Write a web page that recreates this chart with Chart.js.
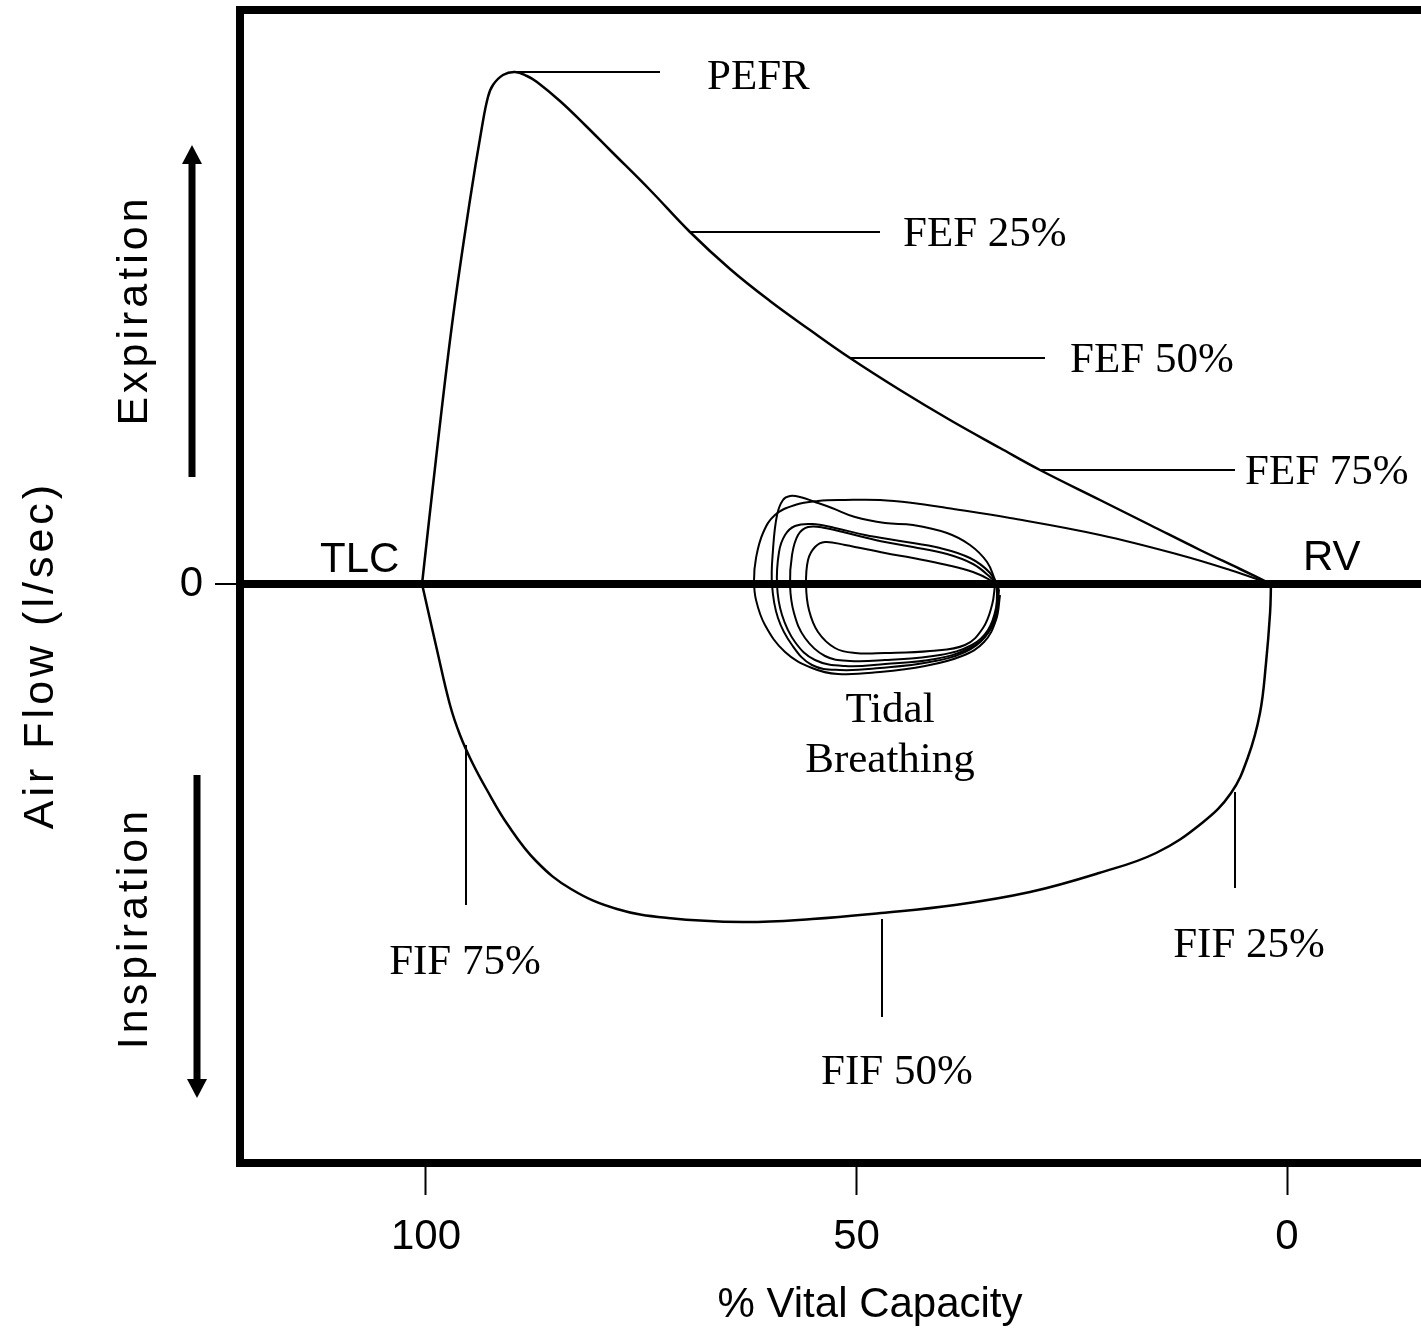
<!DOCTYPE html>
<html lang="en">
<head>
  <meta charset="UTF-8">
  <title>Flow-Volume Loop</title>
  <style>
    html, body { margin: 0; padding: 0; background: #fff; }
    #wrap { width: 1421px; height: 1330px; }
  </style>
</head>
<body>
  <div id="wrap"><canvas id="loopChart" width="1421" height="1330"></canvas></div>

  <script src="https://cdnjs.cloudflare.com/ajax/libs/Chart.js/4.4.1/chart.umd.min.js"></script>

  <script>
    // x = % vital capacity, y = air flow (l/sec)
    const xTicks = [0, 50, 100];
    const yTicks = [0];

    // forced expiration, TLC -> RV
    const expVolume = [100.46, 98.72, 96.86, 94.89, 93.50, 92.80, 92.22, 91.06, 89.66, 88.27, 87.11, 84.44, 81.53, 78.63, 73.98, 69.34, 64.69, 60.05, 55.40, 50.75, 44.95, 39.14, 33.33, 28.69, 21.72, 15.91, 10.10, 5.46, 1.86];
    const expFlow = [0, 2.68, 5.34, 7.68, 9.14, 9.74, 9.98, 10.18, 10.24, 10.16, 10.04, 9.66, 9.18, 8.68, 7.88, 7.04, 6.30, 5.66, 5.08, 4.52, 3.88, 3.28, 2.72, 2.28, 1.68, 1.18, 0.68, 0.30, 0];

    // forced inspiration, RV -> TLC
    const inspVolume = [1.86, 1.97, 2.44, 3.14, 4.53, 6.50, 9.87, 15.21, 21.83, 29.85, 38.56, 47.15, 55.17, 63.18, 71.89, 77.82, 83.16, 87.22, 90.48, 92.92, 94.66, 96.05, 97.21, 98.72, 100.46];
    const inspFlow = [0, -0.58, -1.58, -2.58, -3.46, -4.18, -4.78, -5.38, -5.78, -6.16, -6.42, -6.58, -6.70, -6.76, -6.68, -6.50, -6.10, -5.54, -4.82, -4.12, -3.56, -3.02, -2.42, -1.32, 0];

    // tidal breathing loops (inner to outer)
    const tidal1Volume = [33.91, 34.26, 35.31, 37.40, 41.46, 46.69, 50.17, 52.50, 54.47, 55.52, 55.86, 55.63, 54.82, 53.66, 51.33, 46.69, 43.44, 39.49, 36.47, 34.49, 33.91];
    const tidal1Flow = [-0.02, -0.42, -0.88, -1.22, -1.34, -1.38, -1.38, -1.28, -0.96, -0.52, -0.02, 0.48, 0.74, 0.84, 0.78, 0.62, 0.52, 0.38, 0.24, 0.08, -0.02];

    const tidal2Volume = [33.68, 33.80, 34.73, 36.59, 40.30, 46.69, 50.75, 53.66, 55.98, 57.26, 57.72, 57.49, 56.79, 55.63, 53.66, 50.17, 46.69, 43.44, 39.49, 36.47, 34.49, 33.68];
    const tidal2Flow = [-0.02, -0.48, -0.92, -1.22, -1.42, -1.52, -1.54, -1.44, -1.08, -0.58, -0.02, 0.58, 0.98, 1.14, 1.12, 0.98, 0.84, 0.74, 0.60, 0.40, 0.14, -0.02];

    const tidal3Volume = [33.57, 33.68, 34.73, 36.82, 40.88, 46.69, 51.33, 54.82, 57.14, 58.65, 59.23, 59.00, 58.30, 57.14, 55.17, 52.50, 49.01, 44.95, 40.30, 36.82, 34.49, 33.57];
    const tidal3Flow = [-0.08, -0.56, -0.98, -1.28, -1.50, -1.60, -1.64, -1.52, -1.16, -0.62, -0.02, 0.64, 0.98, 1.16, 1.20, 1.12, 0.98, 0.86, 0.72, 0.52, 0.22, -0.08];

    const tidal4Volume = [33.45, 33.80, 35.08, 37.40, 41.46, 47.27, 51.92, 55.17, 57.49, 59.12, 59.81, 59.70, 59.23, 58.54, 57.72, 56.56, 54.82, 52.85, 50.17, 46.69, 43.44, 39.49, 36.82, 34.84, 33.91, 33.45];
    const tidal4Flow = [-0.12, -0.62, -1.06, -1.36, -1.56, -1.68, -1.72, -1.62, -1.22, -0.68, -0.02, 0.68, 1.38, 1.68, 1.76, 1.74, 1.64, 1.52, 1.34, 1.22, 1.18, 1.02, 0.78, 0.44, 0.08, -0.12];

    // last tidal inspiration, then slow expiration down to RV
    const lastVolume = [33.33, 33.80, 35.19, 37.75, 42.04, 47.27, 52.15, 55.17, 58.30, 60.63, 61.67, 61.90, 61.67, 60.86, 59.47, 57.14, 54.47, 51.33, 47.27, 43.44, 39.49, 32.17, 21.72, 12.43, 6.62, 1.86];
    const lastFlow = [-0.22, -0.72, -1.16, -1.44, -1.64, -1.76, -1.80, -1.68, -1.36, -0.82, -0.32, 0.08, 0.52, 1.02, 1.38, 1.58, 1.66, 1.68, 1.68, 1.62, 1.52, 1.32, 0.98, 0.58, 0.28, 0];

    // callouts: label, leader start, leader end, text anchor (data units)
    const callouts = [
      { text: 'PEFR',    from: [89.66, 10.24], to: [72.82, 10.24], at: [67.36, 9.90],  align: 'left' },
      { text: 'FEF 25%', from: [69.34, 7.04],  to: [47.27, 7.04],  at: [44.60, 6.76],  align: 'left' },
      { text: 'FEF 50%', from: [50.75, 4.52],  to: [28.11, 4.52],  at: [25.20, 4.24],  align: 'left' },
      { text: 'FEF 75%', from: [28.69, 2.28],  to: [6.04, 2.28],   at: [4.88, 2.00],   align: 'left' },
      { text: 'FIF 75%', from: [95.35, -3.22], to: [95.35, -6.42], at: [95.47, -7.80], align: 'center' },
      { text: 'FIF 50%', from: [47.04, -6.70], to: [47.04, -8.66], at: [45.30, -10.00], align: 'center' },
      { text: 'FIF 25%', from: [6.04, -4.16],  to: [6.04, -6.08],  at: [4.41, -7.46],  align: 'center' }
    ];
    const tidalText = [['Tidal', 46.11, -2.76], ['Breathing', 46.11, -3.76]];
    const endText = [['TLC', 112.31, 0.24], ['RV', -1.86, 0.28]];

    const pts = (xs, ys) => xs.map((x, i) => ({ x: x, y: ys[i] }));

    // [volume, flow, line width]
    const traces = [
      [expVolume, expFlow, 2.5],
      [inspVolume, inspFlow, 2.5],
      [tidal1Volume, tidal1Flow, 2],
      [tidal2Volume, tidal2Flow, 2],
      [tidal3Volume, tidal3Flow, 2],
      [tidal4Volume, tidal4Flow, 2],
      [lastVolume, lastFlow, 2]
    ];

    const SERIF = '"Liberation Serif", "Times New Roman", serif';
    const SANS = '"Liberation Sans", Arial, sans-serif';

    // frame, callouts and side labels
    const decorations = {
      id: 'decorations',
      afterDraw(chart) {
        const { ctx, chartArea, scales: { x, y } } = chart;
        ctx.save();
        ctx.strokeStyle = '#000';
        ctx.fillStyle = '#000';

        // top edge of the frame
        ctx.lineWidth = 8;
        ctx.beginPath();
        ctx.moveTo(chartArea.left - 4, chartArea.top);
        ctx.lineTo(chartArea.right, chartArea.top);
        ctx.stroke();

        // leader lines
        ctx.lineWidth = 2;
        callouts.forEach(c => {
          ctx.beginPath();
          ctx.moveTo(x.getPixelForValue(c.from[0]), y.getPixelForValue(c.from[1]));
          ctx.lineTo(x.getPixelForValue(c.to[0]), y.getPixelForValue(c.to[1]));
          ctx.stroke();
        });

        ctx.font = '43px ' + SERIF;
        ctx.textBaseline = 'alphabetic';
        callouts.forEach(c => {
          ctx.textAlign = c.align;
          ctx.fillText(c.text, x.getPixelForValue(c.at[0]), y.getPixelForValue(c.at[1]));
        });
        ctx.textAlign = 'center';
        tidalText.forEach(t => ctx.fillText(t[0], x.getPixelForValue(t[1]), y.getPixelForValue(t[2])));

        ctx.font = '42px ' + SANS;
        ctx.textAlign = 'left';
        endText.forEach(t => ctx.fillText(t[0], x.getPixelForValue(t[1]), y.getPixelForValue(t[2])));

        // x axis title
        ctx.textAlign = 'center';
        ctx.fillText('% Vital Capacity', x.getPixelForValue(48.43), 1317);

        // rotated side labels
        const side = (text, px, val) => {
          ctx.save();
          ctx.translate(px, y.getPixelForValue(val));
          ctx.rotate(-Math.PI / 2);
          ctx.font = '43px ' + SANS;
          ctx.letterSpacing = '4px';
          ctx.textAlign = 'center';
          ctx.fillText(text, 0, 0);
          ctx.restore();
        };
        side('Expiration', 147, 5.48);
        side('Inspiration', 147, -6.88);
        side('Air Flow (l/sec)', 53, -1.42);

        // direction arrows
        const arrow = (px, fromVal, toVal) => {
          const y1 = y.getPixelForValue(fromVal);
          const y2 = y.getPixelForValue(toVal);
          const dir = Math.sign(y2 - y1);
          ctx.lineWidth = 7;
          ctx.beginPath();
          ctx.moveTo(px, y1);
          ctx.lineTo(px, y2 - dir * 16);
          ctx.stroke();
          ctx.beginPath();
          ctx.moveTo(px - 10, y2 - dir * 19);
          ctx.lineTo(px + 10, y2 - dir * 19);
          ctx.lineTo(px, y2);
          ctx.closePath();
          ctx.fill();
        };
        arrow(192, 2.14, 8.78);
        arrow(197, -3.82, -10.28);

        ctx.restore();
      }
    };

    const ctx = document.getElementById('loopChart').getContext('2d');
    new Chart(ctx, {
      type: 'scatter',
      data: {
        datasets: traces.map(t => ({
          data: pts(t[0], t[1]),
          showLine: true,
          borderColor: '#000',
          borderWidth: t[2],
          pointRadius: 0,
          tension: 0.4,
          fill: false
        }))
      },
      options: {
        responsive: false,
        animation: false,
        layout: { padding: { top: 10, right: 0, bottom: 0, left: 0 } },
        plugins: { legend: { display: false }, tooltip: { enabled: false } },
        scales: {
          x: {
            type: 'linear',
            reverse: true,
            min: -15.56,
            max: 121.6,
            afterBuildTicks: axis => { axis.ticks = xTicks.map(v => ({ value: v })); },
            afterFit: axis => { axis.height = 167; axis.paddingLeft = 0; axis.paddingRight = 0; },
            border: { display: true, color: '#000', width: 8 },
            grid: { drawOnChartArea: false, drawTicks: true, tickLength: 32, tickWidth: 2, tickColor: '#000', color: '#000' },
            ticks: { color: '#000', padding: 17, maxRotation: 0, font: { family: SANS, size: 42 }, callback: v => String(v) }
          },
          y: {
            type: 'linear',
            min: -11.58,
            max: 11.48,
            afterBuildTicks: axis => { axis.ticks = yTicks.map(v => ({ value: v })); },
            afterFit: axis => { axis.width = 240; axis.paddingTop = 0; axis.paddingBottom = 0; },
            border: { display: true, color: '#000', width: 8 },
            grid: { color: '#000', lineWidth: 8, drawTicks: true, tickLength: 25, tickWidth: 2, tickColor: '#000' },
            ticks: { color: '#000', padding: 12, font: { family: SANS, size: 42 }, callback: v => String(v) }
          }
        }
      },
      plugins: [decorations]
    });
  </script>
</body>
</html>
